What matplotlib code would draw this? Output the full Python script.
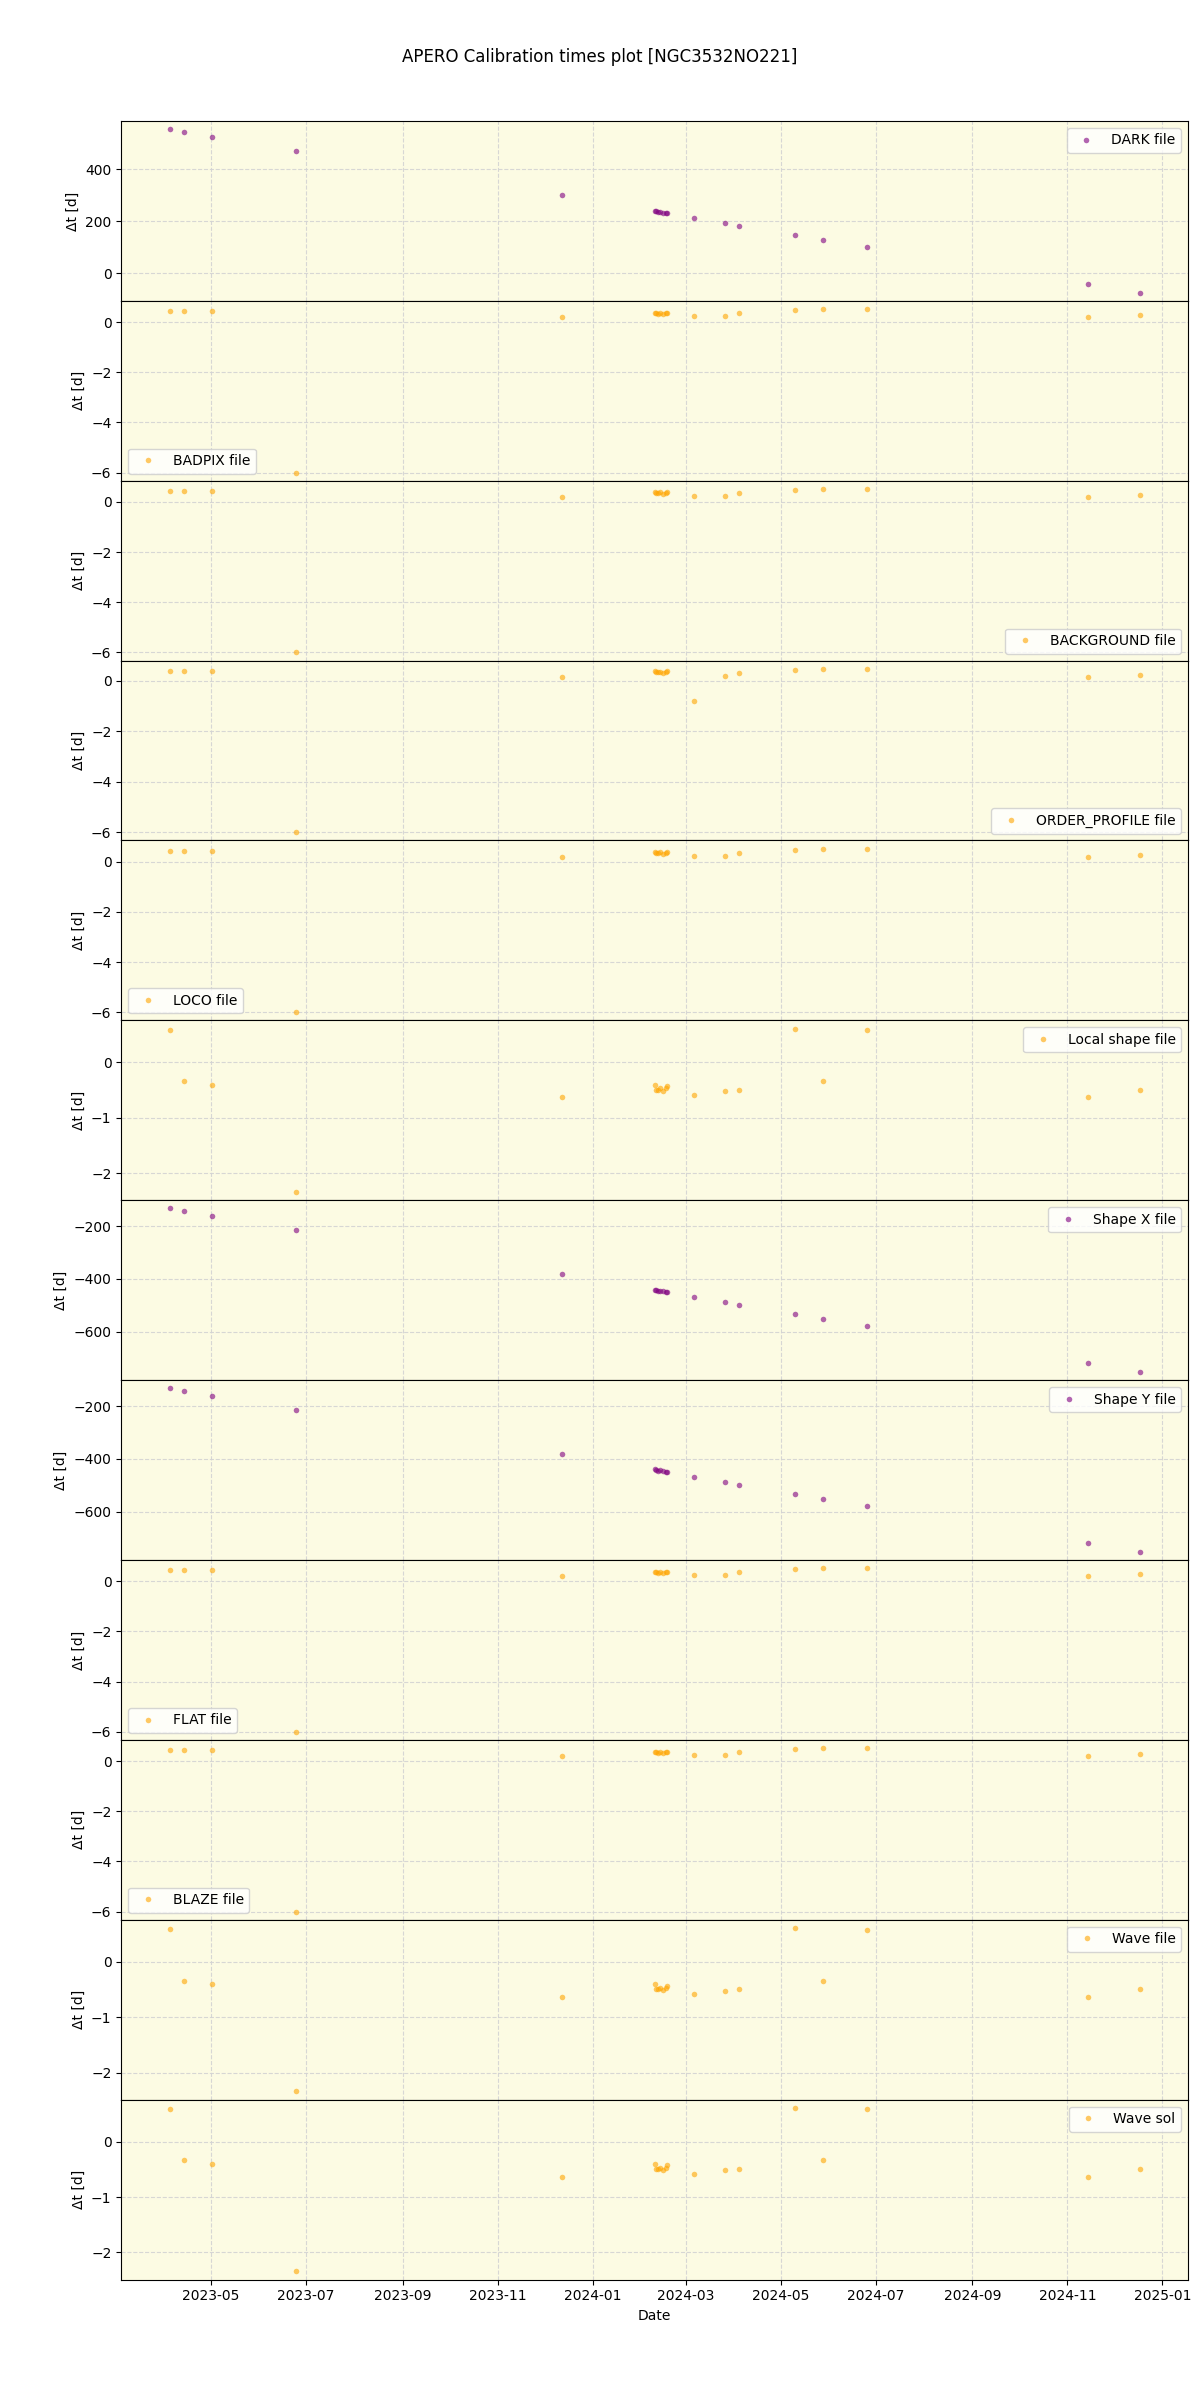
import matplotlib
matplotlib.use("Agg")
import matplotlib.pyplot as plt
import matplotlib.dates as mdates
import numpy as np

dates = np.array(['2023-04-04T12', '2023-04-13T12', '2023-05-01T12', '2023-06-24T12',
                  '2023-12-12T12', '2024-02-10T06', '2024-02-10T18', '2024-02-12T06',
                  '2024-02-13T12', '2024-02-15T06', '2024-02-17T00', '2024-02-17T18',
                  '2024-03-06T06', '2024-03-26T06', '2024-04-04T06', '2024-05-10T06',
                  '2024-05-28T06', '2024-06-25T06', '2024-11-14T06', '2024-12-17T06'],
                 dtype='datetime64[h]')

dark_vals = [553, 541, 522, 469, 301, 241, 239, 236, 236, 233, 232, 231,
             213, 194, 182, 148, 129, 102, -39, -74]
badpix_vals = [0.44, 0.44, 0.44, -6.0, 0.20, 0.38, 0.36, 0.34, 0.38, 0.32, 0.36, 0.38,
               0.24, 0.24, 0.36, 0.47, 0.52, 0.52, 0.20, 0.28]
background_vals = [0.44, 0.44, 0.44, -6.0, 0.20, 0.38, 0.36, 0.34, 0.38, 0.32, 0.36, 0.38,
                   0.24, 0.24, 0.36, 0.47, 0.52, 0.52, 0.20, 0.28]
order_profile_vals = [0.40, 0.40, 0.40, -6.0, 0.16, 0.38, 0.36, 0.34, 0.36, 0.32, 0.36, 0.38,
                      -0.79, 0.20, 0.32, 0.44, 0.47, 0.47, 0.16, 0.24]
loco_vals = [0.44, 0.44, 0.44, -6.0, 0.20, 0.38, 0.36, 0.34, 0.38, 0.32, 0.36, 0.38,
             0.24, 0.24, 0.36, 0.47, 0.52, 0.52, 0.20, 0.28]
local_shape_vals = [0.59, -0.34, -0.41, -2.34, -0.63, -0.41, -0.49, -0.50, -0.47, -0.51,
                    -0.47, -0.43, -0.58, -0.52, -0.49, 0.61, -0.34, 0.58, -0.63, -0.50]
shape_x_vals = [-132, -143, -162, -215, -382, -440, -442, -445, -444, -446, -450, -448,
                -469, -488, -499, -533, -552, -579, -719, -753]
shape_y_vals = [-132, -143, -162, -215, -382, -440, -442, -445, -444, -446, -450, -448,
                -469, -488, -499, -533, -552, -579, -719, -753]
flat_vals = [0.44, 0.44, 0.44, -6.0, 0.20, 0.38, 0.36, 0.34, 0.38, 0.32, 0.36, 0.38,
             0.24, 0.24, 0.36, 0.47, 0.52, 0.52, 0.20, 0.28]
blaze_vals = [0.44, 0.44, 0.44, -6.0, 0.20, 0.38, 0.36, 0.34, 0.38, 0.32, 0.36, 0.38,
              0.24, 0.24, 0.36, 0.47, 0.52, 0.52, 0.20, 0.28]
wave_file_vals = [0.59, -0.34, -0.41, -2.34, -0.63, -0.41, -0.49, -0.50, -0.47, -0.51,
                  -0.47, -0.43, -0.58, -0.52, -0.49, 0.61, -0.34, 0.58, -0.63, -0.50]
wave_sol_vals = [0.59, -0.34, -0.41, -2.34, -0.63, -0.41, -0.49, -0.50, -0.47, -0.51,
                 -0.47, -0.43, -0.58, -0.52, -0.49, 0.61, -0.34, 0.58, -0.63, -0.50]

labels = ['DARK file', 'BADPIX file', 'BACKGROUND file', 'ORDER_PROFILE file', 'LOCO file',
          'Local shape file', 'Shape X file', 'Shape Y file', 'FLAT file', 'BLAZE file',
          'Wave file', 'Wave sol']
series = [dark_vals, badpix_vals, background_vals, order_profile_vals, loco_vals,
          local_shape_vals, shape_x_vals, shape_y_vals, flat_vals, blaze_vals,
          wave_file_vals, wave_sol_vals]
colors = ['purple', 'orange', 'orange', 'orange', 'orange', 'orange',
          'purple', 'purple', 'orange', 'orange', 'orange', 'orange']
legend_locs = ['upper right', 'lower left', 'lower right', 'lower right', 'lower left',
               'upper right', 'upper right', 'upper right', 'lower left', 'lower left',
               'upper right', 'upper right']

fig, axes = plt.subplots(12, 1, figsize=(12, 24), dpi=100, sharex=True)
fig.subplots_adjust(left=0.101, right=0.99, top=0.9496, bottom=0.0502, hspace=0)
fig.suptitle('APERO Calibration times plot [NGC3532NO221]', fontsize=12)

for ax, lab, vals, col, loc in zip(axes, labels, series, colors, legend_locs):
    ax.set_facecolor('#fcfbe3')
    ax.plot(dates, vals, 'o', color=col, alpha=0.6, markersize=4, markeredgewidth=0,
            label=lab)
    ax.grid(True, linestyle='--', color='lightgray', alpha=0.9)
    ax.set_axisbelow(True)
    ax.set_ylabel('Δt [d]')
    ax.legend(loc=loc)

axes[-1].xaxis.set_major_locator(mdates.MonthLocator(bymonth=[1, 3, 5, 7, 9, 11]))
axes[-1].xaxis.set_major_formatter(mdates.DateFormatter('%Y-%m'))
axes[-1].set_xlabel('Date')

fig.savefig('out.png', dpi=100)
